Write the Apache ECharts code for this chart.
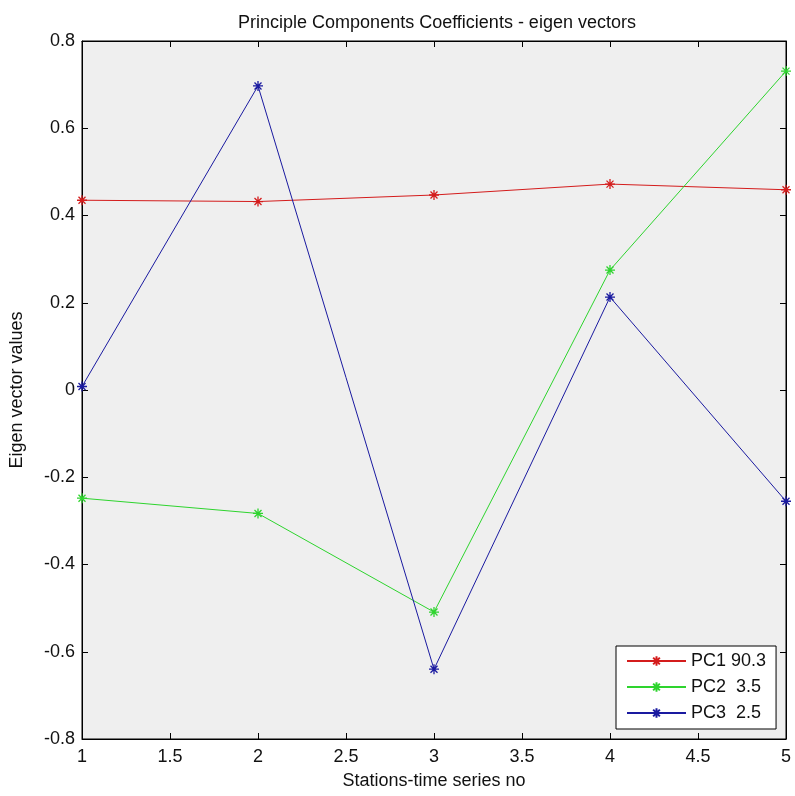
<!DOCTYPE html>
<html>
<head>
<meta charset="utf-8">
<script src="https://cdn.jsdelivr.net/npm/echarts@6/dist/echarts.min.js"></script>
<style>
	html, body { margin: 0; padding: 0; background: #fff; }
	#chart { width: 795px; height: 796px; }
</style>
</head>
<body>
<div id="chart"></div>
<script>
	// stations (x) and eigen vector values per principal component
	let stations = [1, 2, 3, 4, 5];
	let pc1 = [0.435, 0.432, 0.447, 0.472, 0.459];
	let pc2 = [-0.248, -0.283, -0.509, 0.275, 0.731];
	let pc3 = [0.008, 0.697, -0.640, 0.213, -0.255];
	let names = ['PC1 90.3', 'PC2  3.5', 'PC3  2.5'];
	let colors = ['#d41c1c', '#2ed42e', '#1a1aa0'];

	let font = 'Liberation Sans, Arial, sans-serif';
	// asterisk marker like matlab '*'
	let star = 'path://M0,5L10,5M5,0L5,10M1.5,1.5L8.5,8.5M1.5,8.5L8.5,1.5';

	let chart = echarts.init(document.getElementById('chart'));

	let make_series = function(name, vals, color){
		return {
			name: name,
			type: 'line',
			data: stations.map(function(x, i){ return [x, vals[i]]; }),
			symbol: star,
			symbolSize: 10,
			showSymbol: true,
			lineStyle: { color: color, width: 1 },
			itemStyle: { color: color, borderColor: color, borderWidth: 1.3 },
			emphasis: { disabled: true }
		};
	};

	let tick = { show: true, inside: true, length: 6, lineStyle: { color: '#000' } };
	let axis_line = { show: true, onZero: false, lineStyle: { color: '#000', width: 1 } };

	let option = {
		animation: false,
		backgroundColor: '#fff',
		textStyle: { fontFamily: font },
		title: {
			text: 'Principle Components Coefficients - eigen vectors',
			left: 432,
			textAlign: 'center',
			top: 9,
			textStyle: { fontFamily: font, fontSize: 18, fontWeight: 'normal', color: '#111' }
		},
		legend: {
			orient: 'vertical',
			left: 616,
			top: 646,
			width: 161,
			padding: [6, 10, 7, 10],
			itemGap: 8,
			itemWidth: 59,
			itemHeight: 12,
			backgroundColor: '#fff',
			borderColor: '#000',
			borderWidth: 1,
			borderRadius: 0,
			data: names,
			textStyle: { fontFamily: font, fontSize: 18, color: '#111' }
		},
		grid: {
			left: 79,
			right: 9,
			top: 41,
			bottom: 57,
			show: true,
			backgroundColor: '#efefef',
			borderColor: '#000',
			borderWidth: 1
		},
		xAxis: [
			{
				type: 'value',
				min: 1,
				max: 5,
				interval: 0.5,
				name: 'Stations-time series no',
				nameLocation: 'middle',
				nameGap: 33,
				nameTextStyle: { fontFamily: font, fontSize: 18, color: '#111' },
				axisLine: axis_line,
				axisTick: tick,
				splitLine: { show: false },
				axisLabel: { fontFamily: font, fontSize: 18, color: '#111', margin: 9 }
			},
			{
				type: 'value',
				position: 'top',
				min: 1,
				max: 5,
				interval: 0.5,
				axisLine: axis_line,
				axisTick: tick,
				splitLine: { show: false },
				axisLabel: { show: false }
			}
		],
		yAxis: [
			{
				type: 'value',
				min: -0.8,
				max: 0.8,
				interval: 0.2,
				name: 'Eigen vector values',
				nameLocation: 'middle',
				nameGap: 56,
				nameTextStyle: { fontFamily: font, fontSize: 18, color: '#111' },
				axisLine: axis_line,
				axisTick: tick,
				splitLine: { show: false },
				axisLabel: { fontFamily: font, fontSize: 18, color: '#111', margin: 7 }
			},
			{
				type: 'value',
				position: 'right',
				min: -0.8,
				max: 0.8,
				interval: 0.2,
				axisLine: axis_line,
				axisTick: tick,
				splitLine: { show: false },
				axisLabel: { show: false }
			}
		],
		series: [
			make_series(names[0], pc1, colors[0]),
			make_series(names[1], pc2, colors[1]),
			make_series(names[2], pc3, colors[2])
		]
	};
	chart.setOption(option);
</script>
</body>
</html>
